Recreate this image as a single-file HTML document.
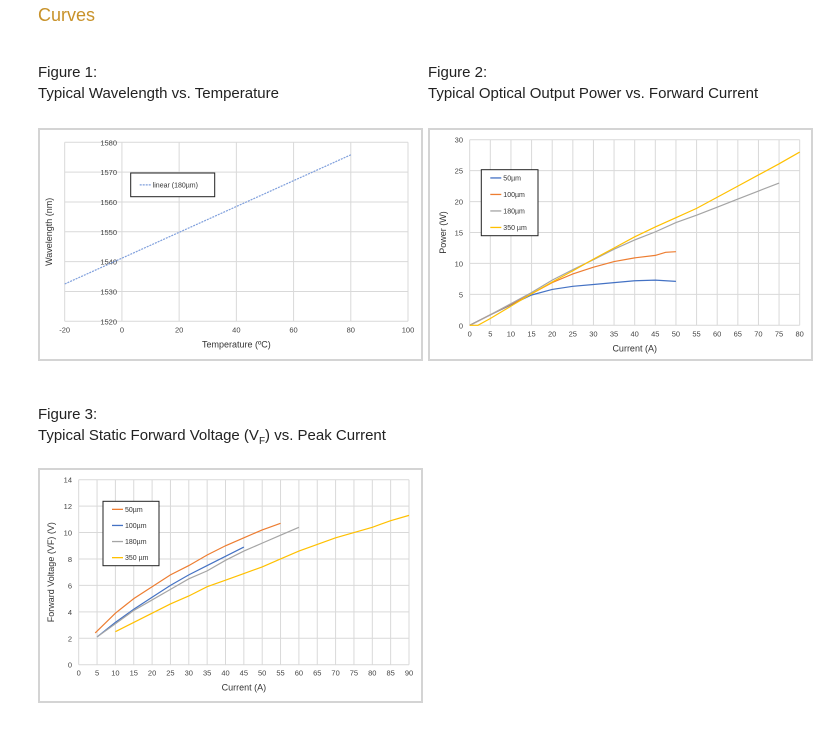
<!DOCTYPE html>
<html><head><meta charset="utf-8"><style>
body{margin:0;width:833px;height:740px;background:#fff;font-family:"Liberation Sans",sans-serif;position:relative;overflow:hidden}
.t{position:absolute;color:#222;font-size:15px;line-height:21px}
.box{position:absolute;border:2px solid #d4d4d4;box-sizing:border-box}
svg{position:absolute;left:0;top:0}
</style></head><body>
<div class="t" style="left:38px;top:5px;color:#c8922a;font-size:18px">Curves</div>
<div class="t" style="left:38px;top:62px">Figure 1:<br>Typical Wavelength vs. Temperature</div>
<div class="t" style="left:428px;top:62px">Figure 2:<br>Typical Optical Output Power vs. Forward Current</div>
<div class="t" style="left:38px;top:404px">Figure 3:<br>Typical Static Forward Voltage (V<sub style="font-size:10px">F</sub>) vs. Peak Current</div>
<div class="box" style="left:38px;top:128px;width:385px;height:233px"></div>
<div class="box" style="left:428px;top:128px;width:385px;height:233px"></div>
<div class="box" style="left:38px;top:468px;width:385px;height:235px"></div>
<svg id="s" width="833" height="740"></svg>
<script>
// Chart 1 data
const c1Temps=[-20,80];
const c1Wave=[1532.5,1575.8];
const c1XTicks=[-20,0,20,40,60,80,100];
const c1YTicks=[1520,1530,1540,1550,1560,1570,1580];
// Chart 2 data
const c2Names=["50µm","100µm","180µm","350 µm"];
const c2X50=[0,5,10,15,20,25,30,35,40,45,50];
const c2Y50=[0,1.7,3.3,4.9,5.8,6.3,6.6,6.9,7.2,7.3,7.1];
const c2X100=[0,5,10,15,20,25,30,35,40,45,47.5,50];
const c2Y100=[0,1.7,3.4,5.1,6.9,8.3,9.4,10.3,10.9,11.3,11.8,11.9];
const c2X180=[0,5,10,15,20,25,30,35,40,45,50,55,60,65,70,75];
const c2Y180=[0,1.7,3.5,5.3,7.3,9.0,10.6,12.3,13.8,15.1,16.6,17.8,19.1,20.4,21.7,23];
const c2X350=[0,2,5,10,15,20,25,30,35,40,45,50,55,60,65,70,75,80];
const c2Y350=[0,0,1.1,3.1,5.1,7.0,8.8,10.7,12.5,14.3,15.9,17.4,18.9,20.7,22.5,24.3,26.1,28];
const c2XTicks=[0,5,10,15,20,25,30,35,40,45,50,55,60,65,70,75,80];
const c2YTicks=[0,5,10,15,20,25,30];
// Chart 3 data
const c3Names=["50µm","100µm","180µm","350 µm"];
const c3X50=[4.5,10,15,20,25,30,35,40,45,50,55];
const c3Y50=[2.4,3.9,5.0,5.9,6.8,7.5,8.3,9.0,9.6,10.2,10.7];
const c3X100=[5,10,15,20,25,30,35,40,45];
const c3Y100=[2.1,3.2,4.2,5.1,6.0,6.8,7.5,8.2,8.9];
const c3X180=[5,10,15,20,25,30,35,40,45,50,55,60];
const c3Y180=[2.1,3.1,4.1,4.9,5.7,6.5,7.1,7.9,8.6,9.2,9.8,10.4];
const c3X350=[10,15,20,25,30,35,40,45,50,55,60,65,70,75,80,85,90];
const c3Y350=[2.5,3.2,3.9,4.6,5.2,5.9,6.4,6.9,7.4,8.0,8.6,9.1,9.6,10.0,10.4,10.9,11.3];
const c3XTicks=[0,5,10,15,20,25,30,35,40,45,50,55,60,65,70,75,80,85,90];
const c3YTicks=[0,2,4,6,8,10,12,14];

const NS="http://www.w3.org/2000/svg", S=document.getElementById('s');
function mk(tag,a,txt){const e=document.createElementNS(NS,tag);for(const k in a)e.setAttribute(k,a[k]);if(txt!==undefined)e.textContent=txt;S.appendChild(e);return e;}
function axis(cfg){
  const sx=v=>cfg.x0+(v-cfg.xmin)/(cfg.xmax-cfg.xmin)*(cfg.x1-cfg.x0);
  const sy=v=>cfg.y0-(v-cfg.ymin)/(cfg.ymax-cfg.ymin)*(cfg.y0-cfg.y1);
  cfg.xt.forEach(v=>{const l=mk('line',{x1:sx(v),x2:sx(v),y1:cfg.y1,y2:cfg.y0,stroke:'#d9d9d9','stroke-width':1});
    
    const t=mk('text',{x:sx(v),y:cfg.y0+11,'font-size':7.5,'text-anchor':'middle',fill:'#444'},v);
    });
  cfg.yt.forEach(v=>{const l=mk('line',{x1:cfg.x0,x2:cfg.x1,y1:sy(v),y2:sy(v),stroke:'#d9d9d9','stroke-width':1});
    
    const t=mk('text',{x:cfg.ylx,y:sy(v)+3,'font-size':7.5,'text-anchor':'end',fill:'#444'},v);
    });
  const xt=mk('text',{x:(cfg.x0+cfg.x1)/2,y:cfg.y0+26,'font-size':9,'text-anchor':'middle',fill:'#333'},cfg.xl);
  
  const cy=(cfg.y0+cfg.y1)/2;
  const yt=mk('text',{x:cfg.ytx,y:cy,'font-size':9,'text-anchor':'middle',fill:'#333',transform:`rotate(-90 ${cfg.ytx} ${cy})`},cfg.yl);
  
  return {sx,sy};
}
function series(ax,xs,ys,col,name,dash){
  const p=mk('polyline',{points:xs.map((x,i)=>ax.sx(x)+','+ax.sy(ys[i])).join(' '),fill:'none',stroke:col,'stroke-width':1.2});
  if(dash)p.setAttribute('stroke-dasharray',dash);
  
}
function legend(x,y,w,h,items,id){
  const r=mk('rect',{x,y,width:w,height:h,fill:'#fff',stroke:'#222','stroke-width':1});
  
  const step=h/items.length;
  items.forEach((it,i)=>{const yy=y+step*(i+0.5);
    mk('line',{x1:x+9,x2:x+20,y1:yy,y2:yy,stroke:it[1],'stroke-width':1.3,'stroke-dasharray':it[2]||''});
    const t=mk('text',{x:x+22,y:yy+2.5,'font-size':7,fill:'#333'},it[0]);
    });
}
const C=['#4472c4','#ed7d31','#a5a5a5','#ffc000'];
// Chart 1
const a1=axis({id:'chart1',x0:64.7,x1:408,y0:321.3,y1:142.3,xmin:-20,xmax:100,ymin:1520,ymax:1580,xt:c1XTicks,yt:c1YTicks,ylx:117,ytx:52,xl:'Temperature (ºC)',yl:'Wavelength (nm)'});
series(a1,c1Temps,c1Wave,'#7f9fdc','wavelength-line','2 1');
legend(130.7,173,84,23.7,[['linear (180µm)','#7f9fdc','2 1']],'chart1-legend');
// Chart 2
const a2=axis({id:'chart2',x0:469.7,x1:799.7,y0:325.3,y1:139.7,xmin:0,xmax:80,ymin:0,ymax:30,xt:c2XTicks,yt:c2YTicks,ylx:463,ytx:446,xl:'Current (A)',yl:'Power (W)'});
series(a2,c2X50,c2Y50,C[0],'power-50um');
series(a2,c2X100,c2Y100,C[1],'power-100um');
series(a2,c2X180,c2Y180,C[2],'power-180um');
series(a2,c2X350,c2Y350,C[3],'power-350um');
legend(481.3,169.7,56.7,66,c2Names.map((n,i)=>[n,C[i]]),'chart2-legend');
// Chart 3
const a3=axis({id:'chart3',x0:78.7,x1:409,y0:664.7,y1:479.7,xmin:0,xmax:90,ymin:0,ymax:14,xt:c3XTicks,yt:c3YTicks,ylx:72,ytx:54,xl:'Current (A)',yl:'Forward Voltage (VF) (V)'});
series(a3,c3X50,c3Y50,C[1],'voltage-50um');
series(a3,c3X100,c3Y100,C[0],'voltage-100um');
series(a3,c3X180,c3Y180,C[2],'voltage-180um');
series(a3,c3X350,c3Y350,C[3],'voltage-350um');
legend(103,501.3,56,64.4,c3Names.map((n,i)=>[n,[C[1],C[0],C[2],C[3]][i]]),'chart3-legend');
</script>
</body></html>
